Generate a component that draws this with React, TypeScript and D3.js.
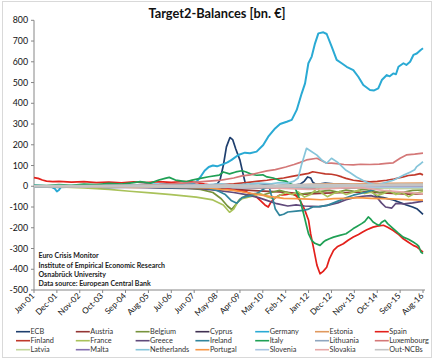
import React from "react";
import * as d3 from "d3";

type P = [number, number];

// month index: 0 = Jan-01 ... 187 = Aug-16
const tickLabels = ["Jan-01","Dec-01","Nov-02","Oct-03","Sep-04","Aug-05","Jul-06","Jun-07","May-08","Apr-09","Mar-10","Feb-11","Jan-12","Dec-12","Nov-13","Oct-14","Sep-15","Aug-16"];
const yTicks = [-500,-400,-300,-200,-100,0,100,200,300,400,500,600,700,800];

const ecb: P[] = [[0,0],[12,-2],[24,0],[36,-2],[48,0],[60,-1],[72,0],[84,2],[88,10],[89.4,29],[91,100],[92.5,190],[94.2,235],[95.5,225],[97,180],[99,126],[100.5,60],[102,-3],[104,5],[108,3],[112,8],[116,2],[120,5],[124,3],[128,10],[130,25],[131.5,45],[133,40],[134,20],[135,12],[137,10],[140,15],[144,12],[148,10],[152,8],[156,5],[160,0],[162,-15],[164.7,-50],[168,-55],[172.7,-66],[176,-78],[179,-90],[182,-100],[184,-108],[185.6,-122],[187,-135]];
const austria: P[] = [[0,0],[24,-2],[48,0],[72,-5],[84,-8],[96,-15],[108,-22],[120,-28],[130,-38],[140,-33],[150,-30],[160,-27],[170,-33],[180,-38],[187,-36]];
const belgium: P[] = [[0,0],[12,-2],[24,0],[36,-3],[48,-2],[60,-5],[72,-8],[80,-15],[86,-30],[90,-60],[93,-95],[95,-112],[97,-88],[99,-62],[102,-45],[106,-35],[110,-42],[114,-30],[118,-20],[122,-30],[126,-45],[130,-35],[134,-30],[138,-25],[142,-20],[146,-28],[150,-18],[154,-25],[158,-15],[162,-20],[166,-30],[170,-25],[174,-35],[178,-28],[182,-20],[187,-18]];
const cyprus: P[] = [[0,0],[72,0],[96,-5],[120,-8],[130,-5],[140,-10],[150,-8],[160,-5],[170,-8],[187,-6]];
const germany: P[] = [[0,5],[4,3],[8,0],[10,-12],[11,-25],[12,-18],[13,-2],[18,2],[24,5],[30,3],[36,6],[42,8],[48,5],[54,10],[60,8],[66,12],[70,10],[74,15],[76,12],[78,20],[80,45],[82,75],[84,93],[86,100],[88,96],[91,107],[93,115],[95,127],[98.2,151],[101.4,162],[103.8,159],[107,167],[110.2,199],[112.6,239],[115.9,279],[118.3,300],[121.5,311],[123.9,320],[126.3,368],[128.7,448],[130.3,496],[131.9,593],[133.5,625],[135.1,689],[136.7,737],[139.1,742],[140.7,734],[143.1,673],[145.5,609],[147.9,593],[150.3,576],[153.5,560],[155.9,528],[158.3,488],[161.5,464],[163.5,462],[165.5,472],[167.2,512],[169.6,536],[171,530],[172.7,544],[174,540],[175.2,576],[177.6,593],[179,585],[180.8,600],[182.4,633],[184,640],[185.9,657],[187,665]];
const estonia: P[] = [[0,0],[96,0],[120,2],[130,8],[140,12],[150,10],[160,12],[170,14],[187,15]];
const spain: P[] = [[0,42],[2,38],[4,30],[6,25],[9,22],[12,24],[18,20],[24,22],[30,18],[36,20],[42,17],[48,21],[54,18],[60,22],[66,19],[72,23],[75,22],[78,18],[82,10],[86,5],[90,0],[93,-10],[96,-19],[99,-22],[102,-27],[105,-40],[107,-52],[109,-70],[111,-90],[112.6,-100],[114,-75],[116,-55],[118,-43],[121,-40],[124,-35],[126,-45],[128,-70],[130,-110],[132,-164],[133,-230],[134.3,-293],[136,-380],[137.5,-422],[139,-410],[140.7,-390],[142,-350],[144,-309],[146,-290],[148.7,-277],[151,-260],[153.5,-245],[156,-232],[158,-221],[160,-210],[163,-197],[165,-192],[168,-188],[170,-198],[172.7,-213],[175,-230],[177.5,-253],[180,-270],[182.3,-285],[184,-292],[186,-309],[187,-318]];
const finland: P[] = [[0,0],[12,2],[24,0],[36,3],[48,0],[60,5],[72,3],[84,5],[90,8],[96,12],[102,18],[108,25],[112,29],[116,35],[120,40],[124,48],[128,55],[132,62],[134,70],[137.5,64],[140,60],[143,58],[145.5,53],[148,45],[150,38],[153.5,29],[157,25],[161.5,21],[165,24],[169.5,29],[173,35],[177.5,45],[180,52],[183,55],[185.6,61],[187,55]];
const france: P[] = [[0,0],[12,-3],[24,-8],[36,-15],[46,-24],[56,-32],[66,-40],[78,-52],[86,-66],[91,-90],[94,-125],[96,-110],[98,-75],[100,-60],[103,-52],[106,-45],[108.7,-35],[112,-50],[115,-60],[118,-45],[121,-30],[124,-40],[127,-27],[130,-52],[133,-40],[136,-10],[138,-30],[141,-50],[144,-35],[147,-25],[150,-40],[153,-30],[156,-20],[159,-35],[162,-28],[165,-45],[168,-35],[171,-20],[174,-40],[177,-30],[180,-50],[183,-35],[187,-25]];
const greece: P[] = [[0,-2],[12,-4],[24,-3],[36,-6],[48,-5],[60,-8],[72,-10],[80,-12],[88,-20],[96,-30],[102,-40],[108,-55],[114,-75],[116.7,-84],[122,-95],[126,-90],[130,-95],[137.5,-98],[142,-90],[146,-80],[150,-65],[154,-55],[158,-48],[162,-45],[165,-55],[167,-80],[169,-100],[172,-105],[174,-82],[178,-85],[182,-80],[185,-75],[187,-72]];
const ireland: P[] = [[0,-3],[12,-5],[24,-2],[36,-5],[48,-3],[60,-5],[72,-8],[80,-5],[84,-10],[88,-20],[92,-40],[95,-70],[97.5,-82],[100,-55],[104,-45],[108,-30],[110,-15],[112,-5],[113,0],[114,-40],[115,-68],[116,-110],[118,-140],[120,-135],[122,-124],[126,-120],[129.5,-116],[132,-110],[134,-100],[137,-98],[141,-92],[144,-80],[147,-68],[150,-55],[153.5,-43],[157,-35],[160,-27],[163,-18],[165,-11],[170,-5],[175,-3],[180,0],[187,2]];
const italy: P[] = [[0,5],[6,3],[12,8],[18,5],[24,10],[30,8],[36,14],[42,10],[48,18],[51,22],[56,15],[60,30],[63,38],[65,43],[68,30],[73,22],[76,30],[80,38],[84,46],[89,54],[91,69],[94,60],[97,69],[100,75],[102,69],[104,60],[107,53],[110,55],[112,45],[115,40],[118,29],[121,25],[123,13],[125,5],[126,-20],[127,-45],[128,-68],[129,-110],[130,-148],[131,-190],[132,-230],[133.5,-261],[135,-275],[137.5,-285],[139,-270],[140,-262],[142,-253],[144,-245],[147,-237],[150,-229],[152,-215],[153.5,-204],[155,-195],[157.5,-180],[159,-170],[160.7,-148],[162,-160],[163,-172],[165,-185],[166,-188],[167,-175],[168.7,-164],[170,-180],[172.7,-204],[175,-225],[177.5,-245],[180,-255],[182.3,-269],[184,-280],[185,-290],[186,-317],[187,-325]];
const lithuania: P[] = [[0,0],[120,0],[150,-2],[170,-5],[187,-4]];
const luxembourg: P[] = [[0,0],[12,2],[24,0],[36,3],[48,5],[60,8],[66,12],[72,15],[78,20],[84,25],[90,30],[96,40],[100,50],[104,55],[108,65],[112,74],[116,80],[121,93],[125,105],[128,115],[131,127],[136,135],[140.7,111],[143,112],[145.5,109],[149,105],[153.5,103],[157,106],[161.5,105],[166,107],[169.5,110],[172.7,113],[176,135],[179,151],[183,155],[186,159],[187,160]];
const latvia: P[] = [[0,0],[96,0],[130,-3],[150,-5],[165,-8],[175,-12],[187,-10]];
const malta: P[] = [[0,0],[96,1],[120,2],[150,0],[187,-2]];
const netherlands: P[] = [[0,0],[12,3],[24,-2],[36,2],[48,0],[60,3],[72,5],[84,8],[90,12],[96,5],[102,10],[108,15],[114,12],[118,18],[122,15],[125,25],[127,40],[128.5,100],[130,150],[131,183],[133,170],[136,150],[138.5,125],[140.7,111],[143,135],[146,115],[150,77],[152,65],[155,45],[158,29],[161,15],[165,5],[168,15],[172.7,29],[175,40],[178,55],[181,69],[183,80],[184,95],[186,110],[187,118]];
const portugal: P[] = [[0,0],[12,-2],[24,-3],[36,-2],[48,-5],[60,-3],[72,-5],[84,-8],[90,-15],[96,-20],[102,-30],[108,-40],[114,-50],[120,-58],[126,-60],[132,-62],[138,-65],[144,-60],[150,-58],[156,-55],[162,-58],[168,-60],[174,-62],[180,-64],[187,-67]];
const slovenia: P[] = [[0,0],[60,-2],[96,-5],[120,-3],[144,-2],[168,-5],[187,-6]];
const slovakia: P[] = [[0,0],[48,2],[96,5],[108,-5],[120,-10],[132,-15],[144,-10],[156,-5],[168,-20],[180,-30],[187,-35]];
const outNCBs: P[] = [[0,0],[24,0],[48,2],[72,0],[84,0],[96,2],[108,0],[120,2],[126,4],[130,5],[136,6],[144,5],[152,4],[160,5],[168,6],[176,7],[187,7]];

const seriesNames = ["ECB","Austria","Belgium","Cyprus","Germany","Estonia","Spain","Finland","France","Greece","Ireland","Italy","Lithuania","Luxembourg","Latvia","Malta","Netherlands","Portugal","Slovenia","Slovakia","Out-NCBs"];
const seriesData = [ecb,austria,belgium,cyprus,germany,estonia,spain,finland,france,greece,ireland,italy,lithuania,luxembourg,latvia,malta,netherlands,portugal,slovenia,slovakia,outNCBs];
const seriesColors = ["#1F3F6E","#943634","#77933C","#403152","#2AAAD4","#E0995E","#E3201B","#C0392B","#A9C25A","#604A7B","#31859C","#1FA055","#8FA6BF","#D47878","#C3D69B","#8470B0","#86C5DA","#F79646","#A8C4E0","#E6A8A8","#C4C4C4"];

const W = 435, H = 360;
const FONT = "Lato, 'Open Sans', sans-serif";

export default function App() {
  const x = d3.scaleLinear().domain([0, 187]).range([34, 423]);
  const y = d3.scaleLinear().domain([-500, 800]).range([290, 20.3]);
  const line = d3.line<P>().x(d => x(d[0])).y(d => y(d[1]));
  const colW = 59.8;
  const widthOf = (n: string) => (n === "Out-NCBs" ? 3.2 : n === "Germany" ? 2 : 1.7);
  return (
    <svg width={W} height={H} style={{ position: "absolute", left: 0, top: 0, background: "#fff" }} fontFamily={FONT}>
      <rect x={2.5} y={1.5} width={429} height={356} fill="#fff" stroke="#D9D9D9" />
      <text x={217} y={18} textAnchor="middle" fontSize={12.8} fontWeight="bold" fill="#111">Target2-Balances [bn. €]</text>
      {/* y axis */}
      <line x1={34} x2={34} y1={y(800)} y2={y(-500)} stroke="#868686" />
      {yTicks.map(t => (
        <g key={t}>
          <line x1={31} x2={34} y1={y(t)} y2={y(t)} stroke="#868686" />
          <text x={28} y={y(t)} dy="0.35em" textAnchor="end" fontSize={8.8} fill="#111">{t}</text>
        </g>
      ))}
      {/* x axis */}
      <line x1={34} x2={425} y1={290} y2={290} stroke="#868686" />
      {tickLabels.map((l, i) => {
        const xx = x(i * 11);
        return (
          <g key={l}>
            <line x1={xx} x2={xx} y1={290} y2={293} stroke="#868686" />
            <text transform={`translate(${xx + 1},${296.5}) rotate(-45)`} textAnchor="end" fontSize={8.2} fill="#111">{l}</text>
          </g>
        );
      })}
      {/* series */}
      {seriesData.map((s, i) => (
        <path key={seriesNames[i]} d={line(s) || ""} fill="none" stroke={seriesColors[i]} strokeWidth={widthOf(seriesNames[i])} strokeLinejoin="round" />
      ))}
      {/* annotation */}
      <g fontSize={7} fontWeight="bold" fill="#222">
        <text x={38.5} y={258}>Euro Crisis Monitor</text>
        <text x={38.5} y={267.5}>Institute of Empirical Economic Research</text>
        <text x={38.5} y={277}>Osnabrück University</text>
        <text x={38.5} y={286.3}>Data source: European Central Bank</text>
      </g>
      {/* legend */}
      {seriesNames.map((n, i) => {
        const c = i % 7, r = Math.floor(i / 7);
        const lx = 16 + c * colW, ly = 331.7 + r * 9;
        return (
          <g key={n}>
            <line x1={lx} x2={lx + 14} y1={ly} y2={ly} stroke={seriesColors[i]} strokeWidth={1.6} />
            <text x={lx + 14.5} y={ly} dy="0.35em" fontSize={7.3} fill="#333">{n}</text>
          </g>
        );
      })}
    </svg>
  );
}
